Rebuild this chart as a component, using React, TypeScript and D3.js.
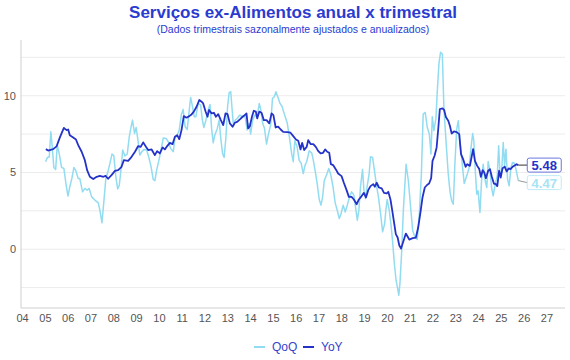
import React from 'react';
import * as d3 from 'd3';

// x: ano decimal, y: variação (% a.a.)
const yoy: [number, number][] = [
  [2005.02, 6.52], [2005.12, 6.43], [2005.34, 6.52], [2005.49, 6.7], [2005.64, 7.3], [2005.81, 7.9], [2005.93, 7.76], [2006.0, 7.8],
  [2006.07, 7.43], [2006.22, 7.28], [2006.34, 7.15], [2006.44, 6.78], [2006.59, 6.35], [2006.73, 5.8], [2006.83, 5.15], [2006.95, 4.72],
  [2007.1, 4.57], [2007.25, 4.72], [2007.39, 4.78], [2007.54, 4.72], [2007.64, 4.78], [2007.75, 4.59], [2007.9, 4.83], [2008.05, 5.1],
  [2008.19, 5.15], [2008.34, 5.37], [2008.44, 5.8], [2008.63, 5.76], [2008.78, 6.02], [2008.93, 6.35], [2009.07, 6.72], [2009.18, 6.67],
  [2009.29, 6.96], [2009.41, 6.67], [2009.51, 6.46], [2009.66, 6.5], [2009.8, 6.13], [2009.9, 6.39], [2010.02, 6.24], [2010.14, 6.63],
  [2010.24, 6.5], [2010.34, 6.72], [2010.46, 6.93], [2010.58, 6.85], [2010.68, 7.33], [2010.78, 7.43], [2010.87, 7.17], [2010.97, 7.76],
  [2011.07, 8.67], [2011.19, 8.57], [2011.31, 8.67], [2011.41, 8.78], [2011.51, 8.96], [2011.63, 9.28], [2011.75, 9.72], [2011.85, 9.61],
  [2011.92, 9.5], [2012.03, 8.96], [2012.11, 8.63], [2012.18, 9.07], [2012.29, 8.85], [2012.39, 8.89], [2012.48, 8.63], [2012.58, 8.8],
  [2012.68, 8.46], [2012.8, 8.09], [2012.9, 8.85], [2012.99, 8.8], [2013.09, 8.2], [2013.21, 7.98], [2013.31, 8.24], [2013.41, 8.3],
  [2013.53, 8.46], [2013.65, 8.63], [2013.75, 8.74], [2013.82, 8.85], [2013.89, 7.87], [2013.97, 8.02], [2014.06, 8.63], [2014.14, 9.02],
  [2014.23, 8.96], [2014.29, 8.52], [2014.38, 8.96], [2014.48, 8.89], [2014.58, 8.41], [2014.7, 8.41], [2014.82, 8.2], [2014.92, 8.85],
  [2015.0, 8.74], [2015.1, 7.93], [2015.21, 7.98], [2015.32, 7.8], [2015.43, 7.65], [2015.61, 7.63], [2015.75, 7.59], [2015.87, 7.37],
  [2015.99, 7.15], [2016.09, 7.07], [2016.19, 6.5], [2016.26, 6.93], [2016.35, 6.46], [2016.46, 6.67], [2016.53, 7.11], [2016.63, 6.85],
  [2016.75, 6.85], [2016.86, 6.67], [2016.96, 6.41], [2017.07, 6.24], [2017.18, 6.28], [2017.27, 6.5], [2017.36, 6.35], [2017.45, 6.28],
  [2017.52, 5.54], [2017.62, 5.48], [2017.74, 5.2], [2017.84, 4.93], [2017.99, 4.76], [2018.09, 4.33], [2018.21, 3.85], [2018.31, 3.41],
  [2018.43, 3.41], [2018.53, 3.24], [2018.65, 2.93], [2018.75, 3.24], [2018.87, 3.46], [2018.97, 3.67], [2019.06, 3.37], [2019.16, 3.85],
  [2019.26, 4.11], [2019.38, 4.24], [2019.45, 4.07], [2019.53, 4.33], [2019.63, 4.02], [2019.75, 3.96], [2019.85, 3.67], [2019.97, 3.63],
  [2020.04, 3.74], [2020.14, 3.2], [2020.21, 2.54], [2020.3, 1.67], [2020.37, 0.98], [2020.45, 0.76], [2020.52, 0.26], [2020.6, 0.04],
  [2020.81, 1.02], [2020.96, 0.63], [2021.11, 0.72], [2021.25, 0.76], [2021.35, 1.41], [2021.46, 2.5], [2021.54, 3.37], [2021.64, 4.02],
  [2021.75, 4.2], [2021.83, 4.28], [2021.92, 4.63], [2021.98, 5.76], [2022.07, 6.09], [2022.16, 6.63], [2022.23, 7.83], [2022.3, 9.13],
  [2022.42, 9.17], [2022.49, 9.07], [2022.57, 8.59], [2022.67, 8.37], [2022.74, 8.04], [2022.82, 7.54], [2022.92, 7.67], [2023.04, 7.63],
  [2023.15, 7.5], [2023.23, 6.2], [2023.32, 5.87], [2023.43, 5.37], [2023.5, 5.54], [2023.62, 5.43], [2023.69, 5.98], [2023.76, 6.52],
  [2023.84, 5.76], [2023.94, 5.43], [2024.03, 5.22], [2024.1, 4.72], [2024.18, 5.15], [2024.25, 5.0], [2024.32, 4.63], [2024.42, 5.11],
  [2024.5, 5.22], [2024.58, 4.72], [2024.67, 4.28], [2024.76, 4.24], [2024.82, 4.11], [2024.9, 5.11], [2024.97, 4.67], [2025.05, 5.28],
  [2025.15, 5.37], [2025.23, 5.07], [2025.32, 5.26], [2025.4, 5.22], [2025.49, 5.37], [2025.58, 5.46], [2025.67, 5.54], [2025.74, 5.48],
];

const qoq: [number, number][] = [
  [2005.01, 5.7], [2005.08, 5.96], [2005.17, 6.02], [2005.24, 7.65], [2005.3, 6.67], [2005.37, 5.33], [2005.45, 5.2], [2005.52, 6.78],
  [2005.61, 6.2], [2005.71, 5.33], [2005.81, 5.26], [2005.9, 4.28], [2005.99, 3.46], [2006.07, 4.07], [2006.16, 4.6], [2006.25, 5.33],
  [2006.34, 5.1], [2006.44, 4.6], [2006.51, 4.6], [2006.63, 3.74], [2006.73, 3.96], [2006.83, 3.85], [2006.92, 3.96], [2007.03, 3.41],
  [2007.17, 3.2], [2007.32, 3.02], [2007.39, 2.54], [2007.48, 1.72], [2007.57, 3.2], [2007.65, 4.59], [2007.75, 5.1], [2007.83, 5.59],
  [2007.92, 6.2], [2008.0, 6.1], [2008.09, 4.72], [2008.17, 3.93], [2008.24, 4.15], [2008.32, 5.26], [2008.39, 6.46], [2008.49, 6.07],
  [2008.59, 6.2], [2008.68, 7.33], [2008.76, 7.98], [2008.82, 8.41], [2008.91, 7.54], [2008.98, 7.93], [2009.06, 7.1], [2009.14, 6.13],
  [2009.23, 6.35], [2009.32, 6.5], [2009.44, 6.46], [2009.53, 6.02], [2009.63, 5.41], [2009.73, 4.54], [2009.8, 4.46], [2009.88, 5.15],
  [2009.98, 5.8], [2010.07, 6.46], [2010.17, 7.25], [2010.29, 7.22], [2010.39, 7.0], [2010.49, 6.57], [2010.61, 6.35], [2010.68, 7.22],
  [2010.78, 7.43], [2010.87, 7.76], [2010.96, 8.74], [2011.04, 9.11], [2011.13, 7.98], [2011.22, 7.8], [2011.31, 9.07], [2011.37, 9.89],
  [2011.44, 9.39], [2011.53, 8.63], [2011.6, 8.63], [2011.7, 9.5], [2011.81, 9.39], [2011.88, 8.46], [2011.95, 7.93], [2012.04, 8.41],
  [2012.14, 9.07], [2012.22, 9.43], [2012.29, 7.87], [2012.36, 6.93], [2012.43, 7.43], [2012.54, 7.87], [2012.62, 8.41], [2012.7, 7.11],
  [2012.77, 6.24], [2012.84, 5.98], [2012.92, 7.33], [2012.99, 9.28], [2013.06, 10.2], [2013.13, 10.26], [2013.18, 9.28], [2013.24, 8.2],
  [2013.33, 8.41], [2013.41, 8.52], [2013.53, 8.74], [2013.65, 8.63], [2013.76, 8.63], [2013.85, 7.76], [2013.94, 8.2], [2014.0, 7.5],
  [2014.09, 8.41], [2014.19, 8.74], [2014.29, 8.63], [2014.38, 9.5], [2014.45, 9.07], [2014.53, 8.2], [2014.61, 7.87], [2014.7, 6.85],
  [2014.79, 7.54], [2014.88, 8.09], [2014.96, 9.83], [2015.04, 9.93], [2015.11, 10.26], [2015.2, 9.9], [2015.29, 9.5], [2015.38, 9.3],
  [2015.46, 8.9], [2015.61, 8.2], [2015.69, 7.43], [2015.8, 6.24], [2015.87, 5.7], [2015.94, 7.07], [2016.04, 6.67], [2016.13, 5.8],
  [2016.22, 5.59], [2016.31, 4.93], [2016.39, 5.48], [2016.46, 5.7], [2016.57, 6.41], [2016.68, 6.28], [2016.75, 5.8], [2016.84, 5.04],
  [2016.93, 4.17], [2017.01, 3.24], [2017.09, 2.87], [2017.16, 3.41], [2017.23, 4.46], [2017.33, 4.83], [2017.43, 5.26], [2017.52, 4.83],
  [2017.62, 4.02], [2017.71, 3.02], [2017.8, 2.54], [2017.89, 2.0], [2017.97, 2.33], [2018.06, 2.87], [2018.15, 2.43], [2018.24, 2.87],
  [2018.32, 3.3], [2018.43, 3.74], [2018.53, 3.52], [2018.62, 2.54], [2018.68, 1.89], [2018.75, 2.54], [2018.82, 4.07], [2018.91, 5.2],
  [2018.97, 3.85], [2019.04, 3.3], [2019.11, 4.07], [2019.2, 4.93], [2019.26, 6.02], [2019.35, 5.98], [2019.44, 5.04], [2019.53, 4.07],
  [2019.61, 3.37], [2019.7, 2.33], [2019.79, 1.13], [2019.88, 1.67], [2019.94, 2.65], [2019.99, 3.24], [2020.08, 2.54], [2020.16, 1.57],
  [2020.23, 0.48], [2020.3, -0.83], [2020.38, -2.02], [2020.45, -2.57], [2020.5, -3.0], [2020.55, -2.24], [2020.63, -0.07], [2020.7, 2.54],
  [2020.82, 5.54], [2020.92, 4.46], [2021.02, 2.72], [2021.11, 1.2], [2021.21, 0.8], [2021.31, 0.63], [2021.4, 2.28], [2021.49, 4.89],
  [2021.57, 8.8], [2021.66, 8.91], [2021.75, 7.93], [2021.84, 7.5], [2021.91, 6.2], [2021.97, 8.63], [2022.04, 7.72], [2022.13, 8.54],
  [2022.19, 10.33], [2022.26, 12.07], [2022.33, 12.83], [2022.41, 12.72], [2022.48, 9.13], [2022.57, 7.07], [2022.67, 4.89], [2022.75, 3.7],
  [2022.82, 3.15], [2022.89, 2.93], [2022.96, 5.54], [2023.04, 7.83], [2023.11, 8.37], [2023.18, 7.07], [2023.27, 5.76], [2023.37, 4.28],
  [2023.48, 4.78], [2023.58, 5.28], [2023.67, 6.63], [2023.74, 7.54], [2023.79, 7.07], [2023.86, 5.0], [2023.92, 3.59], [2023.98, 3.8],
  [2024.06, 2.39], [2024.13, 4.46], [2024.2, 5.54], [2024.29, 4.46], [2024.36, 4.02], [2024.42, 5.72], [2024.5, 5.11], [2024.57, 4.02],
  [2024.64, 3.48], [2024.73, 4.24], [2024.82, 4.78], [2024.88, 6.74], [2024.94, 4.89], [2025.01, 5.0], [2025.08, 6.96], [2025.14, 5.43],
  [2025.2, 6.52], [2025.27, 4.57], [2025.34, 4.13], [2025.42, 5.33], [2025.49, 5.65], [2025.58, 5.6], [2025.67, 5.0], [2025.74, 4.47],
];

const xTickYears = d3.range(2004, 2028);
const yTickValues = [0, 5, 10];
const gridValues = [-2.5, 0, 2.5, 5, 7.5, 10, 12.5];
const xDomain: [number, number] = [2003.93, 2027.79];
const yDomain: [number, number] = [-3.83, 13.63];

const DARK = '#2432c8';
const LIGHT = '#92dcf1';
const FONT = '"Liberation Sans", Arial, Helvetica, sans-serif';

export default function App() {
  const width = 570;
  const height = 360;
  const left = 21, right = 565, top = 40, bottom = 308;

  const x = d3.scaleLinear().domain(xDomain).range([left, right]);
  const y = d3.scaleLinear().domain(yDomain).range([bottom, top]);
  const line = d3.line<[number, number]>().x(d => x(d[0])).y(d => y(d[1]));

  const lastYoy = yoy[yoy.length - 1];
  const lastQoq = qoq[qoq.length - 1];
  const midX = (left + right) / 2;

  const endTag = (pt: [number, number], color: string, border: string, link: string, dy: number) => {
    const px = x(pt[0]);
    const py = y(pt[1]);
    const bx = px + 9;
    return (
      <g>
        <path d={`M${px},${py}L${bx},${py + dy}`} stroke={link} strokeWidth={1} fill="none" />
        <rect x={bx} y={py + dy - 7} width={34} height={14} rx={2} fill="#fff" stroke={border} strokeWidth={1} />
        <text x={bx + 17} y={py + dy + 5} textAnchor="middle" fontSize={13} fontWeight="bold" fill={color} fontFamily={FONT}>
          {pt[1].toFixed(2)}
        </text>
      </g>
    );
  };

  return (
    <div style={{ position: 'fixed', left: 0, top: 0, width, height, background: '#fff' }}>
      <svg width={width} height={height} style={{ display: 'block' }}>
        <text x={midX} y={18} textAnchor="middle" fontSize={17} fontWeight="bold" fill="#2a3bd0" fontFamily={FONT}>
          Serviços ex-Alimentos anual x trimestral
        </text>
        <text x={midX} y={33} textAnchor="middle" fontSize={10.5} fill="#2a3bd0" fontFamily={FONT}>
          (Dados trimestrais sazonalmente ajustados e anualizados)
        </text>

        {gridValues.map(v => (
          <line key={v} x1={left} x2={right} y1={y(v)} y2={y(v)} stroke="#ececec" strokeWidth={1} />
        ))}
        <line x1={left} x2={left} y1={top} y2={bottom} stroke="#cfcfcf" strokeWidth={1} />
        <line x1={left} x2={right} y1={bottom} y2={bottom} stroke="#cfcfcf" strokeWidth={1} />

        {yTickValues.map(v => (
          <text key={v} x={16} y={y(v) + 4} textAnchor="end" fontSize={11} fill="#555" fontFamily={FONT}>{v}</text>
        ))}
        {xTickYears.map(yr => (
          <text key={yr} x={x(yr)} y={322} textAnchor="middle" fontSize={11} fill="#555" fontFamily={FONT}>
            {String(yr).slice(2)}
          </text>
        ))}

        <path d={line(qoq) || ''} fill="none" stroke={LIGHT} strokeWidth={1.5} strokeLinejoin="round" />
        <path d={line(yoy) || ''} fill="none" stroke={DARK} strokeWidth={1.8} strokeLinejoin="round" />

        {endTag(lastYoy, DARK, '#6d76dd', '#333', 0)}
        {endTag(lastQoq, '#a6e3f4', '#bfeaf7', '#999', 2)}

        <g fontFamily={FONT} fontSize={12}>
          <line x1={254} x2={265} y1={347} y2={347} stroke={LIGHT} strokeWidth={2} />
          <text x={272} y={351} fill="#3344cc">QoQ</text>
          <line x1={303} x2={314} y1={347} y2={347} stroke={DARK} strokeWidth={2} />
          <text x={321} y={351} fill="#3344cc">YoY</text>
        </g>
      </svg>
    </div>
  );
}
